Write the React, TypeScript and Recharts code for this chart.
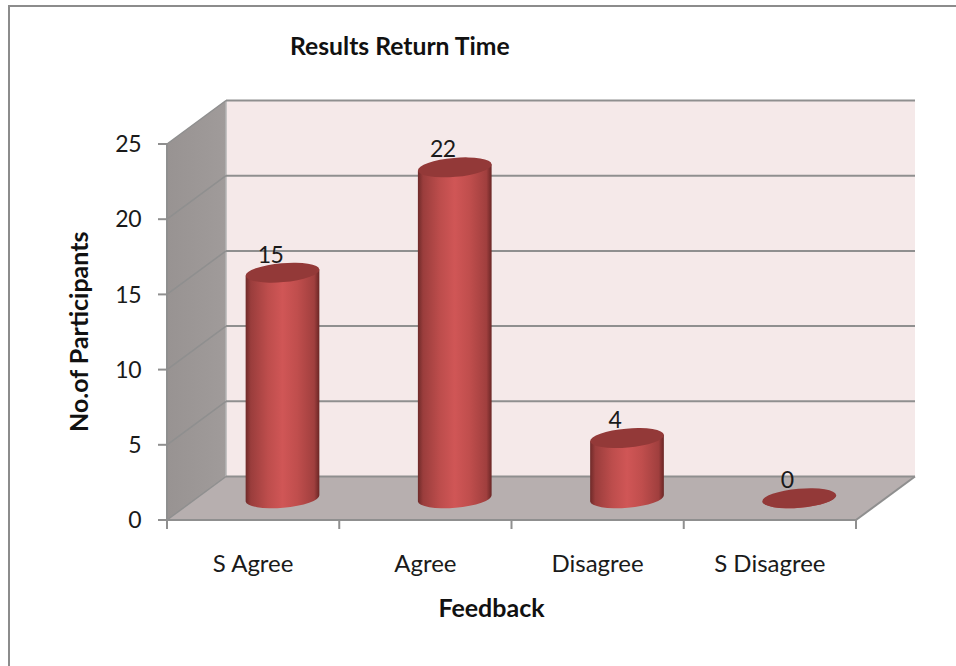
import { BarChart, Bar, XAxis, YAxis, CartesianGrid, LabelList, ReferenceArea } from "recharts";

const categories = ["S Agree", "Agree", "Disagree", "S Disagree"];
const participants = [15, 22, 4, 0];
const yTicks = [0, 5, 10, 15, 20, 25];

const chartData = categories.map((name, i) => ({ name, value: participants[i] }));

const FONT = "Lato, 'Open Sans', sans-serif";
const W = 956;
const H = 666;
const LEFT = 167;
const RIGHT = 100;
const TOP = 144;
const BOTTOM = 146;
// 3d look: how far the back wall sits from the front of the box
const DEPTH_X = 59;
const DEPTH_Y = 43.5;
const BAND = (W - LEFT - RIGHT) / categories.length;
const LINE = "#8f8f8f";

// side wall, back wall and floor
const Walls = (props: any) => {
  const { x, y, width, height } = props;
  const b = y + height;
  const r = x + width;
  return (
    <g>
      <defs>
        <linearGradient id="sideWall" x1="0" y1="0" x2="1" y2="0">
          <stop offset="0" stopColor="#989392" />
          <stop offset="1" stopColor="#a09b9a" />
        </linearGradient>
      </defs>
      <polygon
        points={`${x},${y} ${x + DEPTH_X},${y - DEPTH_Y} ${x + DEPTH_X},${b - DEPTH_Y} ${x},${b}`}
        fill="url(#sideWall)"
      />
      <rect x={x + DEPTH_X} y={y - DEPTH_Y} width={width} height={height} fill="#f5e9e9" />
      <polygon
        points={`${x},${b} ${x + DEPTH_X},${b - DEPTH_Y} ${r + DEPTH_X},${b - DEPTH_Y} ${r},${b}`}
        fill="#b7afaf"
      />
      <line x1={x + DEPTH_X} y1={y - DEPTH_Y} x2={x + DEPTH_X} y2={b - DEPTH_Y} stroke="#b5b5b5" strokeWidth={1.5} />
      <line x1={r} y1={b} x2={r + DEPTH_X} y2={b - DEPTH_Y} stroke={LINE} strokeWidth={2} />
    </g>
  );
};

const GridLine3d = (props: any) => {
  const { x1, x2, y1 } = props;
  return (
    <g key={`grid-${y1}`}>
      <line x1={x1} y1={y1} x2={x1 + DEPTH_X} y2={y1 - DEPTH_Y} stroke={LINE} strokeWidth={1.5} />
      <line
        x1={x1 + DEPTH_X}
        y1={y1 - DEPTH_Y}
        x2={x2 + DEPTH_X}
        y2={y1 - DEPTH_Y}
        stroke={LINE}
        strokeWidth={2}
      />
    </g>
  );
};

const Cylinder = (props: any) => {
  const { x, y, width, height, index } = props;
  const cx = x + width / 2 + DEPTH_X / 2;
  const rx = width / 2;
  const ry = 9.5;
  const tilt = -5;
  const topY = y - DEPTH_Y / 2;
  const botY = y + height - DEPTH_Y / 2;
  const dx = rx * Math.cos((tilt * Math.PI) / 180);
  const dy = rx * Math.sin((tilt * Math.PI) / 180);
  const id = `cyl-${index}`;
  return (
    <g>
      <defs>
        <linearGradient id={id} x1="0" y1="0" x2="1" y2="0">
          <stop offset="0" stopColor="#6f2a29" />
          <stop offset="0.07" stopColor="#9a3d3c" />
          <stop offset="0.3" stopColor="#bd4d4c" />
          <stop offset="0.5" stopColor="#d05656" />
          <stop offset="0.7" stopColor="#c04e4d" />
          <stop offset="0.93" stopColor="#a03f3e" />
          <stop offset="1" stopColor="#6a2625" />
        </linearGradient>
      </defs>
      <path
        d={`M${cx - dx},${topY - dy} L${cx - dx},${botY - dy} A${rx},${ry} ${tilt} 0 0 ${cx + dx},${botY + dy} L${cx + dx},${topY + dy} Z`}
        fill={`url(#${id})`}
      />
      <ellipse cx={cx} cy={topY} rx={rx} ry={ry} fill="#933938" transform={`rotate(${tilt} ${cx} ${topY})`} />
    </g>
  );
};

const ValueLabel = (props: any) => {
  const { x, y, width, value } = props;
  return (
    <text
      x={x + width / 2 + DEPTH_X / 2 - 12}
      y={y - DEPTH_Y / 2 - 19}
      textAnchor="middle"
      dominantBaseline="central"
      fontFamily={FONT}
      fontSize={23}
      letterSpacing={-0.5}
      fill="#1a1a1a"
    >
      {value}
    </text>
  );
};

const CategoryTick = (props: any) => {
  const { x, payload, index } = props;
  const axisY = H - BOTTOM;
  return (
    <g>
      <line x1={x - BAND / 2} y1={axisY} x2={x - BAND / 2} y2={axisY + 9} stroke={LINE} strokeWidth={2} />
      {index === categories.length - 1 && (
        <line x1={x + BAND / 2} y1={axisY} x2={x + BAND / 2} y2={axisY + 9} stroke={LINE} strokeWidth={2} />
      )}
      <text x={x} y={axisY + 42} textAnchor="middle" dominantBaseline="central" fontFamily={FONT} fontSize={24} fill="#1a1a1a">
        {payload.value}
      </text>
    </g>
  );
};

export default function App() {
  return (
    <div style={{ position: "absolute", left: 0, top: 0, width: W, height: H, overflow: "hidden", background: "#fff" }}>
      <div
        style={{
          position: "absolute",
          left: 8,
          top: 5,
          right: 0,
          bottom: 0,
          borderTop: "2px solid #8c8c8c",
          borderLeft: "2px solid #8c8c8c",
        }}
      />
      <BarChart
        width={W}
        height={H}
        data={chartData}
        margin={{ top: TOP, right: RIGHT, bottom: 0, left: 60 }}
        style={{ position: "absolute", left: 0, top: 0 }}
      >
        <ReferenceArea y1={0} y2={25} shape={Walls} fill="none" stroke="none" ifOverflow="visible" zIndex={-200} />
        <CartesianGrid vertical={false} horizontal={GridLine3d as any} zIndex={-100} />
        <XAxis
          dataKey="name"
          height={BOTTOM}
          interval={0}
          tickLine={false}
          axisLine={{ stroke: LINE, strokeWidth: 2 }}
          tick={CategoryTick}
          label={{
            value: "Feedback",
            position: "insideBottom",
            offset: 49,
            dx: -20,
            style: { fontFamily: FONT, fontSize: 25, fontWeight: 700, fill: "#111" },
          }}
        />
        <YAxis
          width={107}
          domain={[0, 25]}
          ticks={yTicks}
          tickSize={9}
          tickMargin={17}
          tickLine={{ stroke: LINE, strokeWidth: 2 }}
          axisLine={{ stroke: LINE, strokeWidth: 2 }}
          tick={{ fontFamily: FONT, fontSize: 23, fill: "#1a1a1a", letterSpacing: -0.5 }}
          label={{
            value: "No.of Participants",
            angle: -90,
            position: "insideLeft",
            offset: 0,
            dx: 19,
            dy: 100,
            style: { fontFamily: FONT, fontSize: 25, fontWeight: 700, fill: "#111" },
          }}
        />
        <Bar dataKey="value" barSize={74} shape={Cylinder} isAnimationActive={false}>
          <LabelList dataKey="value" content={ValueLabel} />
        </Bar>
      </BarChart>
      <div
        style={{
          position: "absolute",
          left: 290,
          top: 32,
          fontFamily: FONT,
          fontSize: 24.7,
          fontWeight: 700,
          lineHeight: "28px",
          color: "#111",
          whiteSpace: "nowrap",
        }}
      >
        Results Return Time
      </div>
    </div>
  );
}
